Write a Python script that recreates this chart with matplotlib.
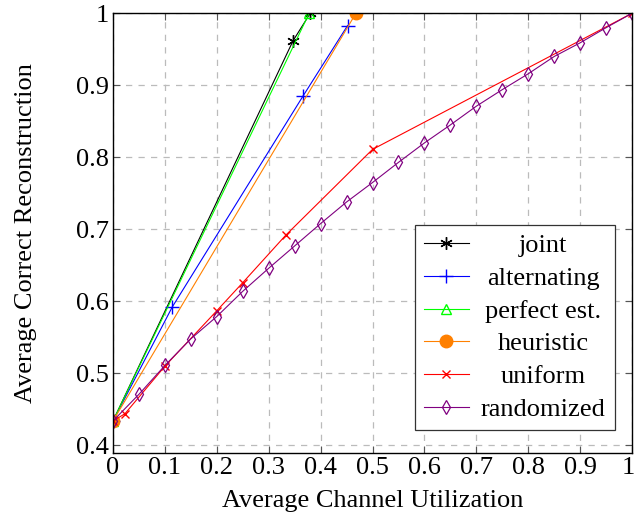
import matplotlib
matplotlib.use("Agg")
from matplotlib import pyplot as plt
from matplotlib.transforms import ScaledTranslation

plt.rcParams['font.family'] = ['Liberation Serif', 'DejaVu Serif']
plt.rcParams['mathtext.fontset'] = 'stix'

# data
joint_x = [0.0, 0.347, 0.38]
joint_y = [0.434, 0.962, 1.0]

alt_x = [0.0, 0.114, 0.366, 0.452]
alt_y = [0.434, 0.592, 0.885, 0.983]

perfect_x = [0.0, 0.378]
perfect_y = [0.434, 1.0]

heur_x = [0.0, 0.468]
heur_y = [0.434, 1.0]

unif_x = [0.0, 0.023, 0.1, 0.2, 0.25, 0.333, 0.5, 1.0]
unif_y = [0.434, 0.444, 0.51, 0.587, 0.626, 0.692, 0.811, 1.0]

rand_x = [0.0, 0.05, 0.1, 0.15, 0.2, 0.25, 0.3, 0.35, 0.4, 0.45, 0.5,
          0.55, 0.6, 0.65, 0.7, 0.75, 0.8, 0.85, 0.9, 0.95, 1.0]
rand_y = [0.434, 0.471, 0.511, 0.548, 0.579, 0.614, 0.646, 0.677, 0.708, 0.738, 0.765,
          0.793, 0.820, 0.845, 0.871, 0.894, 0.916, 0.940, 0.959, 0.980, 1.0]

xticks = [0, 0.1, 0.2, 0.3, 0.4, 0.5, 0.6, 0.7, 0.8, 0.9, 1]
xticklabels = ['0', '0.1', '0.2', '0.3', '0.4', '0.5', '0.6', '0.7', '0.8', '0.9', '1']
yticks = [0.4, 0.5, 0.6, 0.7, 0.8, 0.9, 1]
yticklabels = ['0.4', '0.5', '0.6', '0.7', '0.8', '0.9', '1']

fs = 19
lw = 0.8

fig = plt.figure(figsize=(6.37, 5.19), dpi=100)
ax = fig.add_axes([0.1774, 0.1272, 0.8148, 0.8472])

ax.plot(joint_x, joint_y, color='black', lw=lw, marker=(6, 2, 0), ms=9, mew=1.0, label='joint')
ax.plot(alt_x, alt_y, color='blue', lw=lw, marker='+', ms=10, mew=1.0, label='alternating')
ax.plot(perfect_x, perfect_y, color='#00ff00', lw=lw, marker='^', ms=7, mfc='none', mew=1.0,
        label='perfect est.')
ax.plot(heur_x, heur_y, color='#ff8000', lw=lw, marker='o', ms=9, label='heuristic')
ax.plot(unif_x, unif_y, color='red', lw=lw, marker='x', ms=6, mew=1.0, label='uniform')
ax.plot(rand_x, rand_y, color='#800080', lw=lw, marker='d', ms=7.5, mfc='none', mew=0.9,
        label='randomized')

ax.set_xlim(0, 1)
ax.set_ylim(0.3895, 1.0)
ax.set_xticks(xticks)
ax.set_xticklabels(xticklabels)
ax.set_yticks(yticks)
ax.set_yticklabels(yticklabels)
ax.tick_params(direction='in', top=True, right=True, length=5, width=0.8,
               labelsize=fs, colors='#555555', labelcolor='black', pad=3)
ax.grid(True, color='#bbbbbb', linestyle=(0, (5, 5)), linewidth=0.9)
for s in ax.spines.values():
    s.set_linewidth(1.0)
    s.set_color('black')

# last x label sits right at the figure edge, pull it in a little
last = ax.get_xticklabels()[-1]
last.set_transform(last.get_transform() + ScaledTranslation(-3 / 72, 0, fig.dpi_scale_trans))

ax.set_xlabel('Average Channel Utilization', fontsize=fs, labelpad=8)
ax.set_ylabel('Average Correct Reconstruction', fontsize=fs, labelpad=28)

leg = ax.legend(loc='lower right', bbox_to_anchor=(0.967, 0.052), borderaxespad=0,
                fontsize=fs, frameon=True, fancybox=False, edgecolor='#333333',
                framealpha=1, handlelength=1.7, labelspacing=0.35, borderpad=0.35,
                handletextpad=0.45)
leg.get_frame().set_linewidth(0.9)

# center the labels like pgfplots does
fig.canvas.draw()
r = fig.canvas.get_renderer()
widths = [t.get_window_extent(r).width for t in leg.get_texts()]
wmax = max(widths)
for t, w in zip(leg.get_texts(), widths):
    t.set_position(((wmax - w) / 2, 0))

fig.savefig('out.png', dpi=100)
